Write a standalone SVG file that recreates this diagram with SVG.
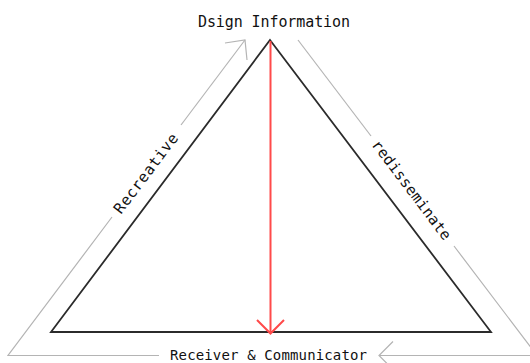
<svg xmlns="http://www.w3.org/2000/svg" width="530" height="363" viewBox="0 0 530 363">
<style>
.gray{fill:none;stroke:#b4b4b4;stroke-width:1.2}
.tri{fill:none;stroke:#2b2b2b;stroke-width:1.8;stroke-linejoin:miter}
.red{fill:none;stroke:#ff4a4a;stroke-width:2}
text{font-family:"DejaVu Sans Mono","Liberation Mono",monospace;font-size:15px;fill:#111}
</style>
<rect width="530" height="363" fill="#fff"/>
<g id="triangle">
<polygon class="tri" points="270,40 491,332 51,332"/>
</g>
<g id="connectors">
<polyline class="gray" points="112,217 8,355.5 159,355.5"/>
<polyline class="gray" points="181,125 245,40"/>
<path class="gray" d="M225,43 L245,40 L247,60"/>
<line class="gray" x1="298" y1="40" x2="371" y2="136"/>
<polyline class="gray" points="454,246 537,355.5 380,355.5"/>
<path class="gray" d="M393,341.5 L379,355.5 L393,369.5"/>
<line class="red" x1="270.5" y1="41" x2="270.5" y2="333"/>
<path class="red" d="M257,320 L270.5,333.5 L284,320"/>
</g>
<g id="top-node">
<text x="274" y="26.5" text-anchor="middle" textLength="152" lengthAdjust="spacing">Dsign Information</text>
</g>
<g id="bottom-node">
<text x="268.5" y="360" text-anchor="middle" style="font-size:14px" textLength="197" lengthAdjust="spacing">Receiver &amp; Communicator</text>
</g>
<g id="left-label">
<text transform="translate(146,173.5) rotate(-53)" text-anchor="middle" dominant-baseline="central" textLength="96" lengthAdjust="spacing">Recreative</text>
</g>
<g id="right-label">
<text transform="translate(411.5,190) rotate(53)" text-anchor="middle" dominant-baseline="central" textLength="121" lengthAdjust="spacing">redisseminate</text>
</g>
</svg>
